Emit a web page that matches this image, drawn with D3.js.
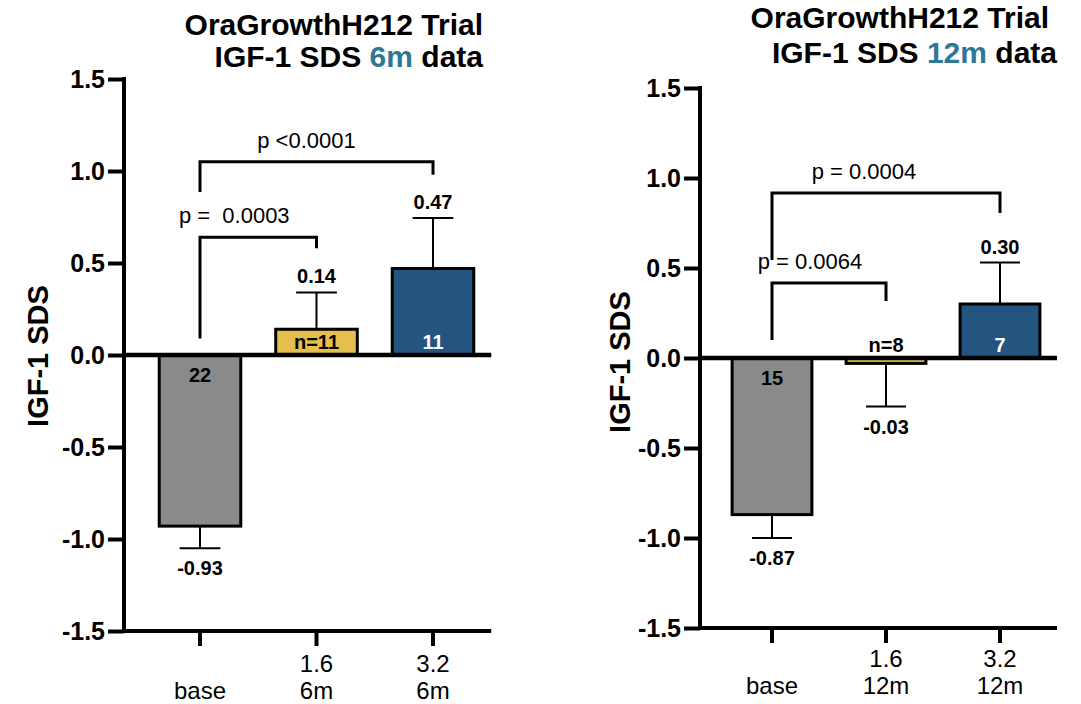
<!DOCTYPE html>
<html>
<head>
<meta charset="utf-8">
<script src="https://cdn.jsdelivr.net/npm/d3@7"></script>
<style>
  html, body { margin: 0; padding: 0; background: #fff; }
  svg { display: block; font-family: "Liberation Sans", Arial, sans-serif; }
</style>
</head>
<body>
<svg id="chart" width="1081" height="704"></svg>
<script>
// data
var groups = ["base", "1.6", "3.2"];
var yTicks = [-1.5, -1.0, -0.5, 0, 0.5, 1.0, 1.5];
var barColors = ["#8a8a8a", "#e5bf4e", "#245580"];

var means6m = [-0.93, 0.14, 0.47];
var err6m = [0.12, 0.20, 0.275];
var n6m = ["22", "n=11", "11"];
var brackets6m = [
  {from: 0, to: 1, top: 0.64, left: 0.09, right: 0.58, label: "p =  0.0003"},
  {from: 0, to: 2, top: 1.05, left: 0.886, right: 0.98, label: "p <0.0001"}
];

var means12m = [-0.87, -0.03, 0.30];
var err12m = [0.13, 0.24, 0.23];
var n12m = ["15", "n=8", "7"];
var brackets12m = [
  {from: 0, to: 1, top: 0.417, left: 0.10, right: 0.317, label: "p = 0.0064"},
  {from: 0, to: 2, top: 0.917, left: 0.544, right: 0.806, label: "p = 0.0004"}
];

var loc = d3.formatLocale({decimal: ".", thousands: ",", grouping: [3], currency: ["", ""], minus: "-"});
var f1 = loc.format(".1f"), f2 = loc.format(".2f");

var svg = d3.select("#chart");

function panel(p) {
  var g = svg.append("g");
  var x = d3.scaleBand().domain(groups).range([p.x0, p.x1])
      .paddingInner(0.3).paddingOuter(0.15);
  var y = d3.scaleLinear().domain([-1.5, 1.5]).range([p.yb, p.yt]);
  var bw = x.bandwidth();
  var cx = function (i) { return x(groups[i]) + bw / 2; };
  var rows = groups.map(function (k, i) {
    return {k: k, i: i, v: p.means[i], e: p.errs[i], n: p.ns[i]};
  });

  /* bars */
  g.selectAll("rect.bar").data(rows).enter().append("rect")
    .attr("class", "bar")
    .attr("x", function (d) { return x(d.k); })
    .attr("width", bw)
    .attr("y", function (d) { return y(Math.max(0, d.v)); })
    .attr("height", function (d) { return Math.abs(y(d.v) - y(0)); })
    .style("fill", function (d) { return barColors[d.i]; })
    .style("stroke", "#000")
    .style("stroke-width", 3);

  /* error bars, one-sided away from zero */
  rows.forEach(function (d) {
    var s = d.v < 0 ? -1 : 1;
    var end = d.v + s * d.e;
    g.append("line")
      .attr("x1", cx(d.i)).attr("x2", cx(d.i))
      .attr("y1", y(d.v)).attr("y2", y(end))
      .style("stroke", "#000").style("stroke-width", 2);
    g.append("line")
      .attr("x1", cx(d.i) - bw / 4).attr("x2", cx(d.i) + bw / 4)
      .attr("y1", y(end)).attr("y2", y(end))
      .style("stroke", "#000").style("stroke-width", 2);
    g.append("text")
      .attr("x", cx(d.i))
      .attr("y", y(end) + (s < 0 ? 20 : -16))
      .attr("dy", "0.35em")
      .attr("text-anchor", "middle")
      .style("font-size", "20px").style("font-weight", "bold")
      .text(f2(d.v));
    // n label sits inside the bar, or above the zero line if the bar is too thin
    var tiny = Math.abs(y(d.v) - y(0)) < 20;
    g.append("text")
      .attr("x", cx(d.i))
      .attr("y", y(0) + (s < 0 && !tiny ? 20 : -13))
      .attr("dy", "0.35em")
      .attr("text-anchor", "middle")
      .style("font-size", "20px").style("font-weight", "bold")
      .style("fill", d.i === 2 ? "#fff" : "#000")
      .text(d.n);
  });

  /* zero line */
  g.append("line")
    .attr("x1", p.ax).attr("x2", p.x1)
    .attr("y1", y(0)).attr("y2", y(0))
    .style("stroke", "#000").style("stroke-width", 4.5);

  /* y axis */
  var ya = g.append("g").attr("transform", "translate(" + p.ax + ",0)")
    .call(d3.axisLeft(y).tickValues(yTicks).tickFormat(f1).tickSize(16).tickPadding(3));
  ya.select(".domain").remove();
  ya.selectAll(".tick line").style("stroke-width", 4);
  ya.selectAll(".tick text").style("font-size", "25px").style("font-weight", "bold")
    .style("font-family", "Liberation Sans, Arial, sans-serif").style("fill", "#000");
  g.append("line")
    .attr("x1", p.ax).attr("x2", p.ax)
    .attr("y1", y(1.5) - 2).attr("y2", y(-1.5) + 2)
    .style("stroke", "#000").style("stroke-width", 4);

  /* x axis */
  g.append("line")
    .attr("x1", p.ax).attr("x2", p.x1)
    .attr("y1", y(-1.5)).attr("y2", y(-1.5))
    .style("stroke", "#000").style("stroke-width", 4);
  rows.forEach(function (d) {
    g.append("line")
      .attr("x1", cx(d.i)).attr("x2", cx(d.i))
      .attr("y1", y(-1.5)).attr("y2", y(-1.5) + 15)
      .style("stroke", "#000").style("stroke-width", 4);
    var lines = d.i === 0 ? ["", "base"] : [d.k, p.period];
    lines.forEach(function (t, j) {
      g.append("text")
        .attr("x", cx(d.i))
        .attr("y", y(-1.5) + p.lab1 + j * 27)
        .attr("text-anchor", "middle")
        .style("font-size", "24px")
        .text(t);
    });
  });

  /* significance brackets */
  p.brackets.forEach(function (b, j) {
    var xl = cx(b.from), xr = cx(b.to);
    g.append("path")
      .attr("d", "M" + xl + "," + y(b.left) + "V" + y(b.top) + "H" + xr + "V" + y(b.right))
      .style("fill", "none").style("stroke", "#000").style("stroke-width", 3);
    g.append("text")
      .attr("x", (xl + xr) / 2 + p.pdx[j])
      .attr("y", y(b.top) - 22)
      .attr("dy", "0.35em")
      .attr("text-anchor", "middle")
      .style("font-size", "22px")
      .style("white-space", "pre")
      .attr("xml:space", "preserve")
      .text(b.label);
  });

  /* y title */
  g.append("text")
    .attr("transform", "translate(" + p.ytx + "," + p.yty + ") rotate(-90)")
    .attr("text-anchor", "middle")
    .style("font-size", "29px").style("font-weight", "bold")
    .text("IGF-1 SDS");

  /* title */
  g.append("text")
    .attr("x", p.t1x).attr("y", p.t1y)
    .attr("text-anchor", "end")
    .style("font-size", "30px").style("font-weight", "bold")
    .text("OraGrowthH212 Trial");
  var t2 = g.append("text")
    .attr("x", p.t2x).attr("y", p.t2y)
    .attr("text-anchor", "end")
    .style("font-size", "30px").style("font-weight", "bold");
  t2.append("tspan").text("IGF-1 SDS ");
  t2.append("tspan").style("fill", "#2e7895").text(p.period);
  t2.append("tspan").text(" data");
}

panel({
  means: means6m, errs: err6m, ns: n6m, brackets: brackets6m, period: "6m",
  x0: 141.75, x1: 491.25, ax: 124, yb: 631, yt: 79,
  lab1: 41, pdx: [-24, -10],
  ytx: 48, yty: 356,
  t1x: 483, t1y: 35, t2x: 483, t2y: 67
});

panel({
  means: means12m, errs: err12m, ns: n12m, brackets: brackets12m, period: "12m",
  x0: 715, x1: 1057, ax: 700, yb: 628, yt: 88,
  lab1: 39, pdx: [-19, -22],
  ytx: 630, yty: 362,
  t1x: 1049, t1y: 28, t2x: 1057, t2y: 63
});
</script>
</body>
</html>
